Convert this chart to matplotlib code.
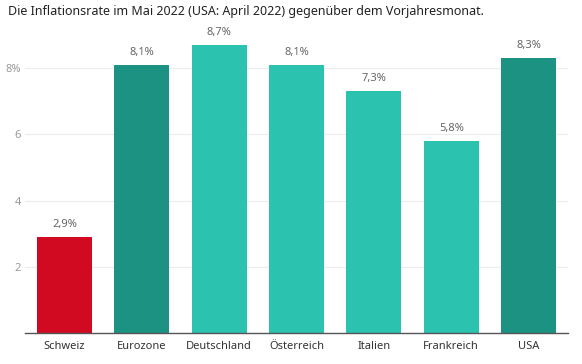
import matplotlib.pyplot as plt

plt.rcParams['font.family'] = ['Noto Sans', 'DejaVu Sans']

countries = ["Schweiz", "Eurozone", "Deutschland", "Österreich", "Italien", "Frankreich", "USA"]
rates = [2.9, 8.1, 8.7, 8.1, 7.3, 5.8, 8.3]
value_labels = ["2,9%", "8,1%", "8,7%", "8,1%", "7,3%", "5,8%", "8,3%"]
colors = ["#d10a22", "#1b9282", "#2bc2b0", "#2bc2b0", "#2bc2b0", "#2bc2b0", "#1b9282"]
yticks = [2, 4, 6, 8]
ytick_labels = ["2", "4", "6", "8%"]

fig = plt.figure(figsize=(5.82, 3.64), dpi=100)
ax = fig.add_axes([25 / 582, 1 - 333 / 364, 543 / 582, 298 / 364])

x = range(len(countries))
ax.bar(x, rates, width=0.71, color=colors, zorder=2)
for xi, r, lab in zip(x, rates, value_labels):
    ax.text(xi, r + 0.22, lab, ha="center", va="bottom", fontsize=8, color="#666666")

ax.set_xlim(-0.51, len(countries) - 0.49)
ax.set_ylim(0, 9.0)
ax.set_yticks(yticks)
ax.set_yticklabels(ytick_labels)
ax.set_xticks(list(x))
ax.set_xticklabels(countries)
ax.tick_params(axis="y", length=0, labelsize=8, labelcolor="#999999", pad=3)
ax.tick_params(axis="x", length=0, labelsize=8, labelcolor="#333333", pad=6)
ax.grid(axis="y", color="#ececec", lw=0.8, zorder=0)
for s in ["top", "right", "left"]:
    ax.spines[s].set_visible(False)
ax.spines["bottom"].set_color("#555555")
ax.spines["bottom"].set_linewidth(1.0)

fig.text(8 / 582, 1 - 12 / 364, "Die Inflationsrate im Mai 2022 (USA: April 2022) gegenüber dem Vorjahresmonat.",
         ha="left", va="center", fontsize=9, color="#222222")

fig.savefig("out.png", dpi=100)
